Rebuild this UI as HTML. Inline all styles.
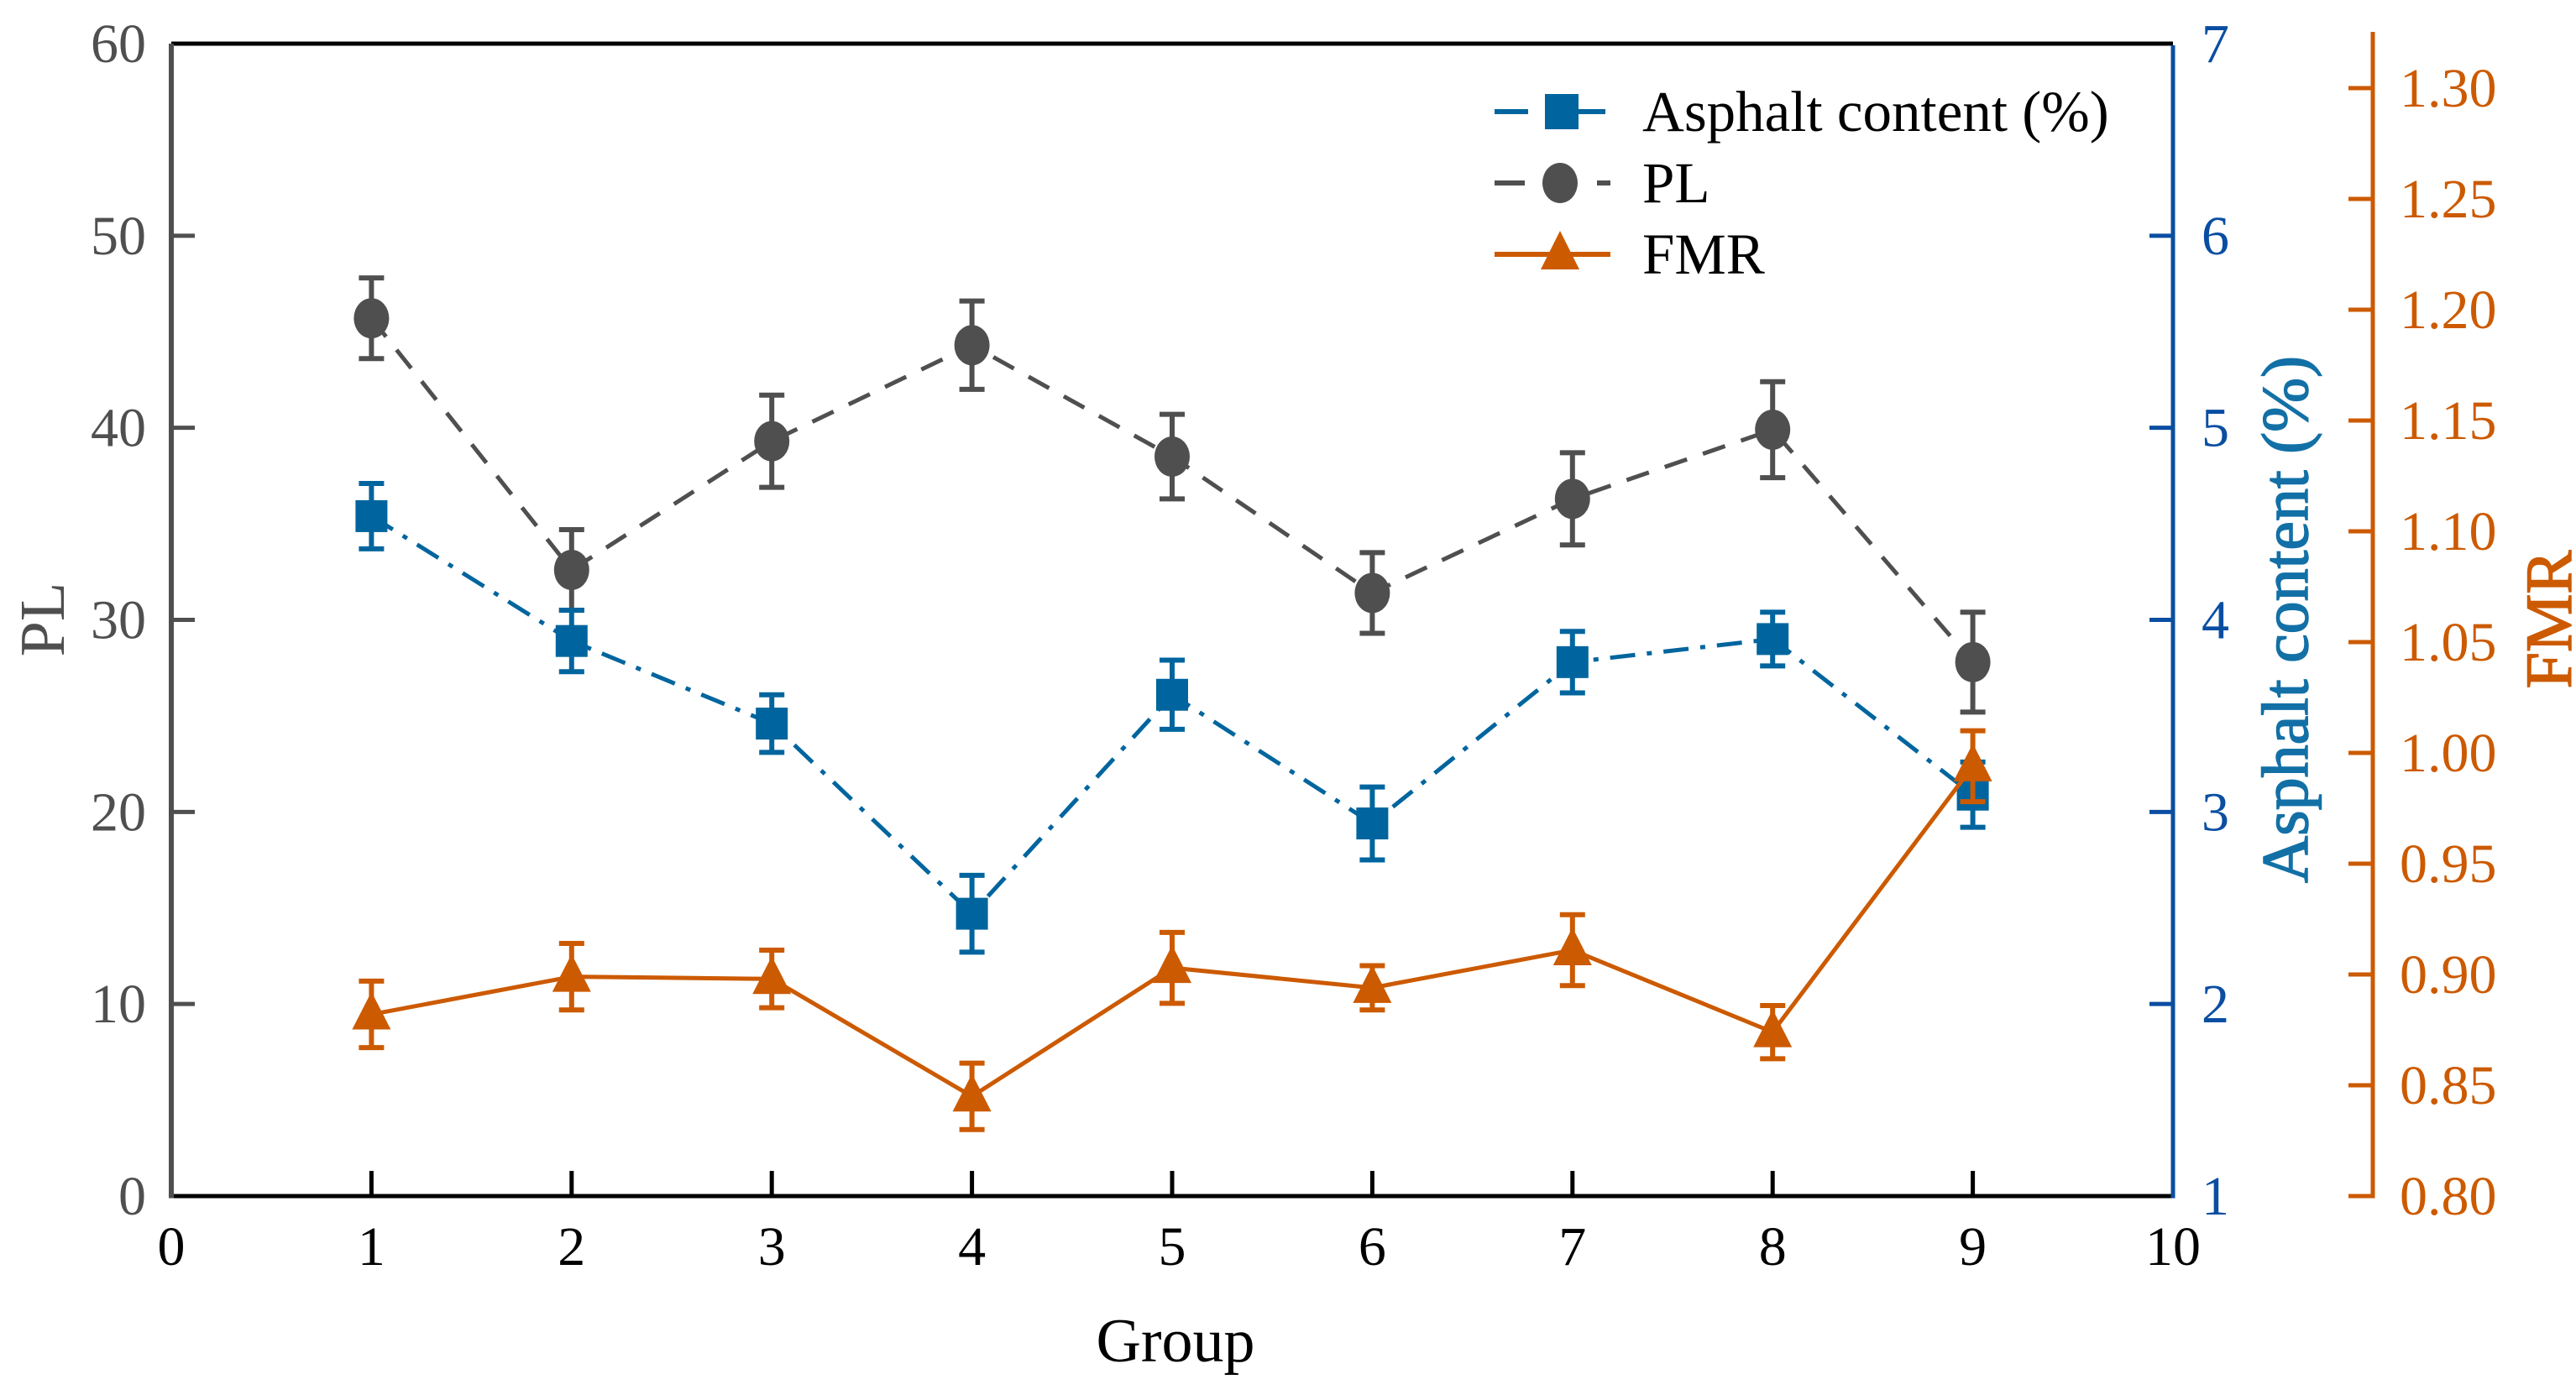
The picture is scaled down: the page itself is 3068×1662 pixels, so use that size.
<!DOCTYPE html>
<html><head><meta charset="utf-8"><style>
html,body{margin:0;padding:0;background:#fff;}
svg{display:block;font-family:"Liberation Serif",serif;}
</style></head><body>
<svg id="chart" width="3068" height="1662" viewBox="0 0 3068 1662" xmlns="http://www.w3.org/2000/svg">
</svg>
<script>
const groups=[1,2,3,4,5,6,7,8,9];
const plValues=[45.7,32.6,39.3,44.3,38.5,31.4,36.3,39.9,27.8];
const plErrors=[2.1,2.1,2.4,2.3,2.2,2.1,2.4,2.5,2.6];
const asphaltValues=[4.54,3.89,3.46,2.47,3.61,2.94,3.78,3.90,3.09];
const asphaltErrors=[0.17,0.16,0.15,0.2,0.18,0.19,0.16,0.14,0.17];
const fmrValues=[0.882,0.899,0.898,0.845,0.903,0.894,0.911,0.874,0.994];
const fmrErrors=[0.015,0.015,0.013,0.015,0.016,0.01,0.016,0.012,0.016];
const xTicks=[0,1,2,3,4,5,6,7,8,9,10];
const plTicks=[0,10,20,30,40,50,60];
const asphaltTicks=[1,2,3,4,5,6,7];
const fmrTicks=["0.80","0.85","0.90","0.95","1.00","1.05","1.10","1.15","1.20","1.25","1.30"];

const X0=204,X1=2588,YB=1425,YT=52;
const sx=v=>X0+(v-0)/10*(X1-X0);
const syPL=v=>YB-(v/60)*(YB-YT);
const syA=v=>YB-((v-1)/6)*(YB-YT);
const FMR_TOP=105;
const syF=v=>YB-((v-0.8)/0.5)*(YB-FMR_TOP);
const GRAY="#4f4f4f",BLUE="#0a4ea2",ABLUE="#00659e",ORANGE="#cc5a00";
const svg=document.getElementById('chart');
const NS="http://www.w3.org/2000/svg";
function mk(tag,attrs,parent){const e=document.createElementNS(NS,tag);for(const k in attrs)e.setAttribute(k,attrs[k]);(parent||svg).appendChild(e);return e;}
function txt(s,attrs){const e=mk('text',attrs);e.textContent=s;return e;}

let e;
e=mk('line',{x1:X0,y1:YT,x2:X1,y2:YT,stroke:'#000','stroke-width':5});


e=mk('line',{x1:X0,y1:YB,x2:X1,y2:YB,stroke:'#000','stroke-width':5});


e=mk('line',{x1:X0,y1:YT,x2:X0,y2:YB+2.5,stroke:GRAY,'stroke-width':6});


e=mk('line',{x1:X1,y1:YT+2,x2:X1,y2:YB+2.5,stroke:BLUE,'stroke-width':5});


e=mk('line',{x1:2826,y1:38,x2:2826,y2:YB+2.5,stroke:ORANGE,'stroke-width':5});



xTicks.forEach(t=>{
  if(t>0&&t<10){e=mk('line',{x1:sx(t),y1:YB,x2:sx(t),y2:YB-30,stroke:'#000','stroke-width':5});
  
  }
  e=txt(String(t),{x:sx(t),y:YB+82,'font-size':66,'text-anchor':'middle',fill:'#000'});
  
  
});
plTicks.forEach(t=>{
  if(t>0&&t<60){e=mk('line',{x1:X0,y1:syPL(t),x2:X0+28,y2:syPL(t),stroke:GRAY,'stroke-width':5});
  
  }
  e=txt(String(t),{x:X0-30,y:syPL(t)+22,'font-size':66,'text-anchor':'end',fill:GRAY});
  
  
});
asphaltTicks.forEach(t=>{
  if(t>1&&t<7){e=mk('line',{x1:X1,y1:syA(t),x2:X1-28,y2:syA(t),stroke:BLUE,'stroke-width':5});
  
  }
  e=txt(String(t),{x:X1+34,y:syA(t)+22,'font-size':66,'text-anchor':'start',fill:BLUE});
  
  
});
fmrTicks.forEach(t=>{
  const v=parseFloat(t);
  e=mk('line',{x1:2797,y1:syF(v),x2:2826,y2:syF(v),stroke:ORANGE,'stroke-width':5});
  
  
  e=txt(t,{x:2858,y:syF(v)+22,'font-size':66,'text-anchor':'start',fill:ORANGE});
  
  
});

e=txt('Group',{x:1400,y:1622,'font-size':74,'text-anchor':'middle',fill:'#000'});


e=txt('PL',{x:0,y:0,'font-size':76,'text-anchor':'middle',fill:GRAY,transform:'translate(76,738) rotate(-90)'});


e=txt('Asphalt content (%)',{x:0,y:0,'font-size':78,'text-anchor':'middle',fill:'#1270a6',stroke:'#1270a6','stroke-width':1.5,transform:'translate(2748,738) rotate(-90)'});


e=txt('FMR',{x:0,y:0,'font-size':78,'text-anchor':'middle',fill:ORANGE,stroke:ORANGE,'stroke-width':1.5,transform:'translate(3062,738) rotate(-90)'});



function series(vals,errs,sy,color,dash,marker,name){
  const pts=groups.map((g,i)=>sx(g)+','+sy(vals[i])).join(' ');
  let l=mk('polyline',{points:pts,fill:'none',stroke:color,'stroke-width':5,'stroke-dasharray':dash});
  
  
  groups.forEach((g,i)=>{
    const x=sx(g),yt=sy(vals[i]+errs[i]),yb=sy(vals[i]-errs[i]);
    let b=mk('path',{d:`M${x},${yt}V${yb}M${x-15},${yt}H${x+15}M${x-15},${yb}H${x+15}`,stroke:color,'stroke-width':6,fill:'none'});
    
    
  });
  groups.forEach((g,i)=>{
    const x=sx(g),y=sy(vals[i]);let m;
    if(marker==='square')m=mk('rect',{x:x-19,y:y-19,width:38,height:38,fill:color});
    else if(marker==='circle')m=mk('ellipse',{cx:x,cy:y,rx:21,ry:24,fill:color});
    else m=mk('path',{d:`M${x},${y-27}L${x+23},${y+18}L${x-23},${y+18}Z`,fill:color});
    
    
  });
}
series(plValues,plErrors,syPL,GRAY,'28,20','circle','pl');
series(asphaltValues,asphaltErrors,syA,ABLUE,'30,14,6,14','square','asphalt');
series(fmrValues,fmrErrors,syF,ORANGE,'none','triangle','fmr');

const leg=mk('g',{});


function legRow(y,color,dash,marker,label,name){
  mk('line',{x1:1780,y1:y,x2:1918,y2:y,stroke:color,'stroke-width':6,'stroke-dasharray':dash},leg);
  if(marker==='square')mk('rect',{x:1840,y:y-21,width:40,height:42,fill:color},leg);
  else if(marker==='circle')mk('ellipse',{cx:1858,cy:y,rx:21,ry:24,fill:color},leg);
  else mk('path',{d:`M1858,${y-28}L1881,${y+18}L1835,${y+18}Z`,fill:color},leg);
  let t=mk('text',{x:1956,y:y+23,'font-size':69,fill:'#000'},leg);t.textContent=label;
  
  
}
legRow(133,ABLUE,'40,22,8,22','square','Asphalt content (%)','asphalt');
legRow(218,GRAY,'36,40,6,40','circle','PL','pl');
legRow(303,ORANGE,'none','triangle','FMR','fmr');
</script>
</body></html>
